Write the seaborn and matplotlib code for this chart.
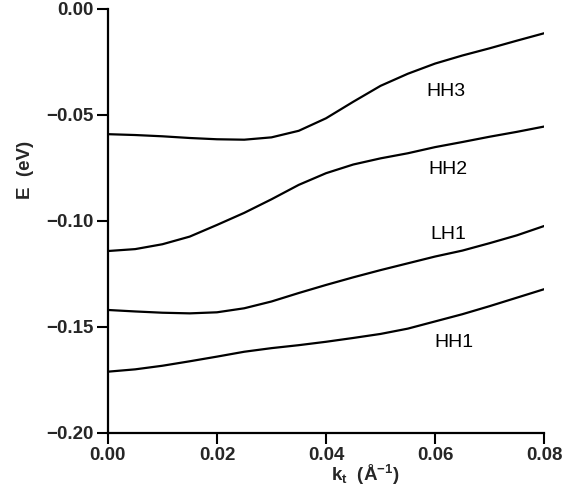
import numpy as np
import pandas as pd
import matplotlib
matplotlib.use("Agg")
import matplotlib.pyplot as plt
import seaborn as sns

k = [0.0, 0.005, 0.01, 0.015, 0.02, 0.025, 0.03, 0.035, 0.04,
     0.045, 0.05, 0.055, 0.06, 0.065, 0.07, 0.075, 0.08]
hh3 = [-0.0591, -0.0595, -0.0601, -0.0609, -0.0615, -0.0617, -0.0606, -0.0575, -0.0516,
       -0.0438, -0.0363, -0.0306, -0.0258, -0.0220, -0.0186, -0.0150, -0.0115]
hh2 = [-0.1142, -0.1133, -0.1110, -0.1074, -0.1019, -0.0962, -0.0898, -0.0830, -0.0775,
       -0.0734, -0.0705, -0.0681, -0.0652, -0.0628, -0.0603, -0.0580, -0.0555]
lh1 = [-0.1420, -0.1427, -0.1433, -0.1436, -0.1431, -0.1412, -0.1380, -0.1340, -0.1302,
       -0.1266, -0.1232, -0.1200, -0.1168, -0.1140, -0.1105, -0.1068, -0.1024]
hh1 = [-0.1711, -0.1700, -0.1683, -0.1662, -0.1640, -0.1617, -0.1600, -0.1586, -0.1570,
       -0.1552, -0.1533, -0.1508, -0.1474, -0.1440, -0.1402, -0.1362, -0.1322]

band_names = ["HH3", "HH2", "LH1", "HH1"]
label_x = [0.062, 0.0624, 0.0624, 0.0635]
label_y = [-0.0392, -0.0759, -0.1066, -0.1575]

xticks = [0.00, 0.02, 0.04, 0.06, 0.08]
yticks = [0.00, -0.05, -0.10, -0.15, -0.20]

df = pd.concat([
    pd.DataFrame({"k": k, "E": v, "band": n})
    for n, v in zip(band_names, [hh3, hh2, lh1, hh1])
])

sns.set_style("ticks")
plt.rcParams["font.family"] = ["Liberation Sans", "DejaVu Sans"]
plt.rcParams["mathtext.default"] = "regular"

fig = plt.figure(figsize=(5.68, 4.92), dpi=100)
ax = fig.add_axes([0.190, 0.120, 0.768, 0.862])

sns.lineplot(data=df, x="k", y="E", units="band", estimator=None,
             color="black", linewidth=1.6, ax=ax, legend=False)
for line in ax.get_lines():
    line.set_solid_joinstyle("round")
    line.set_solid_capstyle("round")

for n, x, y in zip(band_names, label_x, label_y):
    ax.text(x, y, n, ha="center", va="center", fontsize=14, color="black")

ax.set_xlim(0, 0.08)
ax.set_ylim(-0.20, 0.00)
ax.set_xticks(xticks)
ax.set_yticks(yticks)
ax.set_xticklabels([f"{t:.2f}" for t in xticks], fontsize=13.5, fontweight="bold")
ax.set_yticklabels([f"{t:.2f}".replace("-", "\u2212") for t in yticks], fontsize=13.5, fontweight="bold")
ax.tick_params(direction="out", length=8, width=1.5, color="black", pad=2)

sns.despine(ax=ax)
for s in ["left", "bottom"]:
    ax.spines[s].set_linewidth(1.6)
    ax.spines[s].set_color("black")

ax.set_xlabel("k$_t$  (Å$^{-1}$)", fontsize=13.5, fontweight="bold")
ax.set_ylabel("E  (eV)", fontsize=13.5, fontweight="bold")
ax.xaxis.set_label_coords(0.59, -0.100)
ax.yaxis.set_label_coords(-0.19, 0.62)
ax.xaxis.label.set_va("center")
ax.yaxis.label.set_va("center")

fig.savefig("out.png", dpi=100)
